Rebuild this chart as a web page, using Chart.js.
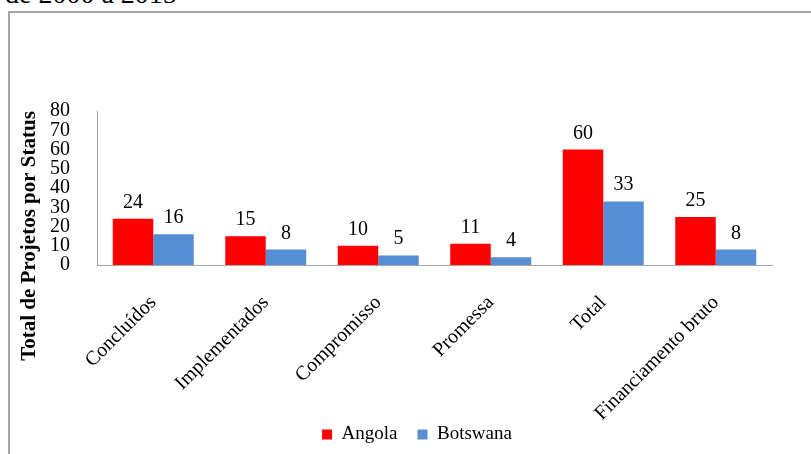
<!DOCTYPE html>
<html>
<head>
<meta charset="utf-8">
<script src="https://cdn.jsdelivr.net/npm/chart.js@4"></script>
<style>
  html, body { margin: 0; padding: 0; background: #fff; overflow: hidden; }
  #caption { position: absolute; left: 5px; top: -20px; font: 28px/28px 'Liberation Serif', serif; color: #000; white-space: nowrap; }
  #frame { position: absolute; left: 8px; top: 11px; width: 900px; height: 600px; border: 2px solid #a3a3a3; box-sizing: border-box; }
  #wrap { position: absolute; left: 0; top: 0; width: 811px; height: 454px; }
</style>
</head>
<body>
<div id="caption">de 2000 a 2015</div>
<div id="frame"></div>
<div id="wrap"><canvas id="chart"></canvas></div>
<script>
'use strict';

const CATEGORIES = ['Concluídos', 'Implementados', 'Compromisso', 'Promessa', 'Total', 'Financiamento bruto'];
const ANGOLA = [24, 15, 10, 11, 60, 25];
const BOTSWANA = [16, 8, 5, 4, 33, 8];
const Y_TICKS = [0, 10, 20, 30, 40, 50, 60, 70, 80];
const Y_TITLE = 'Total de Projetos por Status';

const SERIF = "'Liberation Serif', 'Times New Roman', serif";

Chart.defaults.font.family = SERIF;
Chart.defaults.color = '#000';

// numbers above each bar
const valueLabels = {
  id: 'valueLabels',
  afterDatasetsDraw(chart) {
    const ctx = chart.ctx;
    ctx.save();
    ctx.font = '20px ' + SERIF;
    ctx.fillStyle = '#000';
    ctx.textAlign = 'center';
    ctx.textBaseline = 'alphabetic';
    chart.data.datasets.forEach((ds, i) => {
      chart.getDatasetMeta(i).data.forEach((bar, j) => {
        ctx.fillText(ds.data[j], bar.x, bar.y - 11);
      });
    });
    ctx.restore();
  }
};

// y axis title, sits lower than the plot centre like in the original
const yTitle = {
  id: 'yTitle',
  afterDraw(chart) {
    const ctx = chart.ctx;
    ctx.save();
    ctx.translate(35, 236);
    ctx.rotate(-Math.PI / 2);
    ctx.font = 'bold 21px ' + SERIF;
    ctx.fillStyle = '#000';
    ctx.textAlign = 'center';
    ctx.textBaseline = 'alphabetic';
    ctx.fillText(Y_TITLE, 0, 0);
    ctx.restore();
  }
};

new Chart(document.getElementById('chart'), {
  type: 'bar',
  data: {
    labels: CATEGORIES,
    datasets: [
      { label: 'Angola', data: ANGOLA, backgroundColor: '#ff0000' },
      { label: 'Botswana', data: BOTSWANA, backgroundColor: '#558ed5' }
    ]
  },
  options: {
    responsive: true,
    maintainAspectRatio: false,
    animation: false,
    categoryPercentage: 0.72,
    barPercentage: 1,
    // left pad shifts the legend centre to where the original has it
    layout: { padding: { top: 111, right: 0, left: 23, bottom: 0 } },
    scales: {
      x: {
        grid: { display: false },
        border: { display: true, color: '#a6a6a6', width: 1 },
        ticks: { font: { size: 20 }, color: '#000', minRotation: 45, maxRotation: 45, autoSkip: false, padding: 18 },
        afterFit: s => {
          s.height = 140;
          // long label runs past the legend top in the original, so no clipping
          s._computeLabelArea = () => undefined;
        }
      },
      y: {
        min: 0,
        max: 80,
        grid: { display: false },
        border: { display: true, color: '#a6a6a6', width: 1 },
        ticks: { font: { size: 20 }, color: '#000', autoSkip: false, padding: 19 },
        afterBuildTicks: s => { s.ticks = Y_TICKS.map(v => ({ value: v })); },
        afterFit: s => { s.width = 74; }
      },
      // empty spacer on the right
      yr: {
        position: 'right',
        grid: { display: false },
        border: { display: false },
        ticks: { display: false },
        afterFit: s => { s.width = 39; }
      }
    },
    plugins: {
      legend: {
        position: 'bottom',
        labels: { font: { size: 19 }, color: '#000', boxWidth: 10, boxHeight: 10, padding: 20 }
      },
      tooltip: { enabled: false }
    }
  },
  plugins: [valueLabels, yTitle]
});
</script>
</body>
</html>
